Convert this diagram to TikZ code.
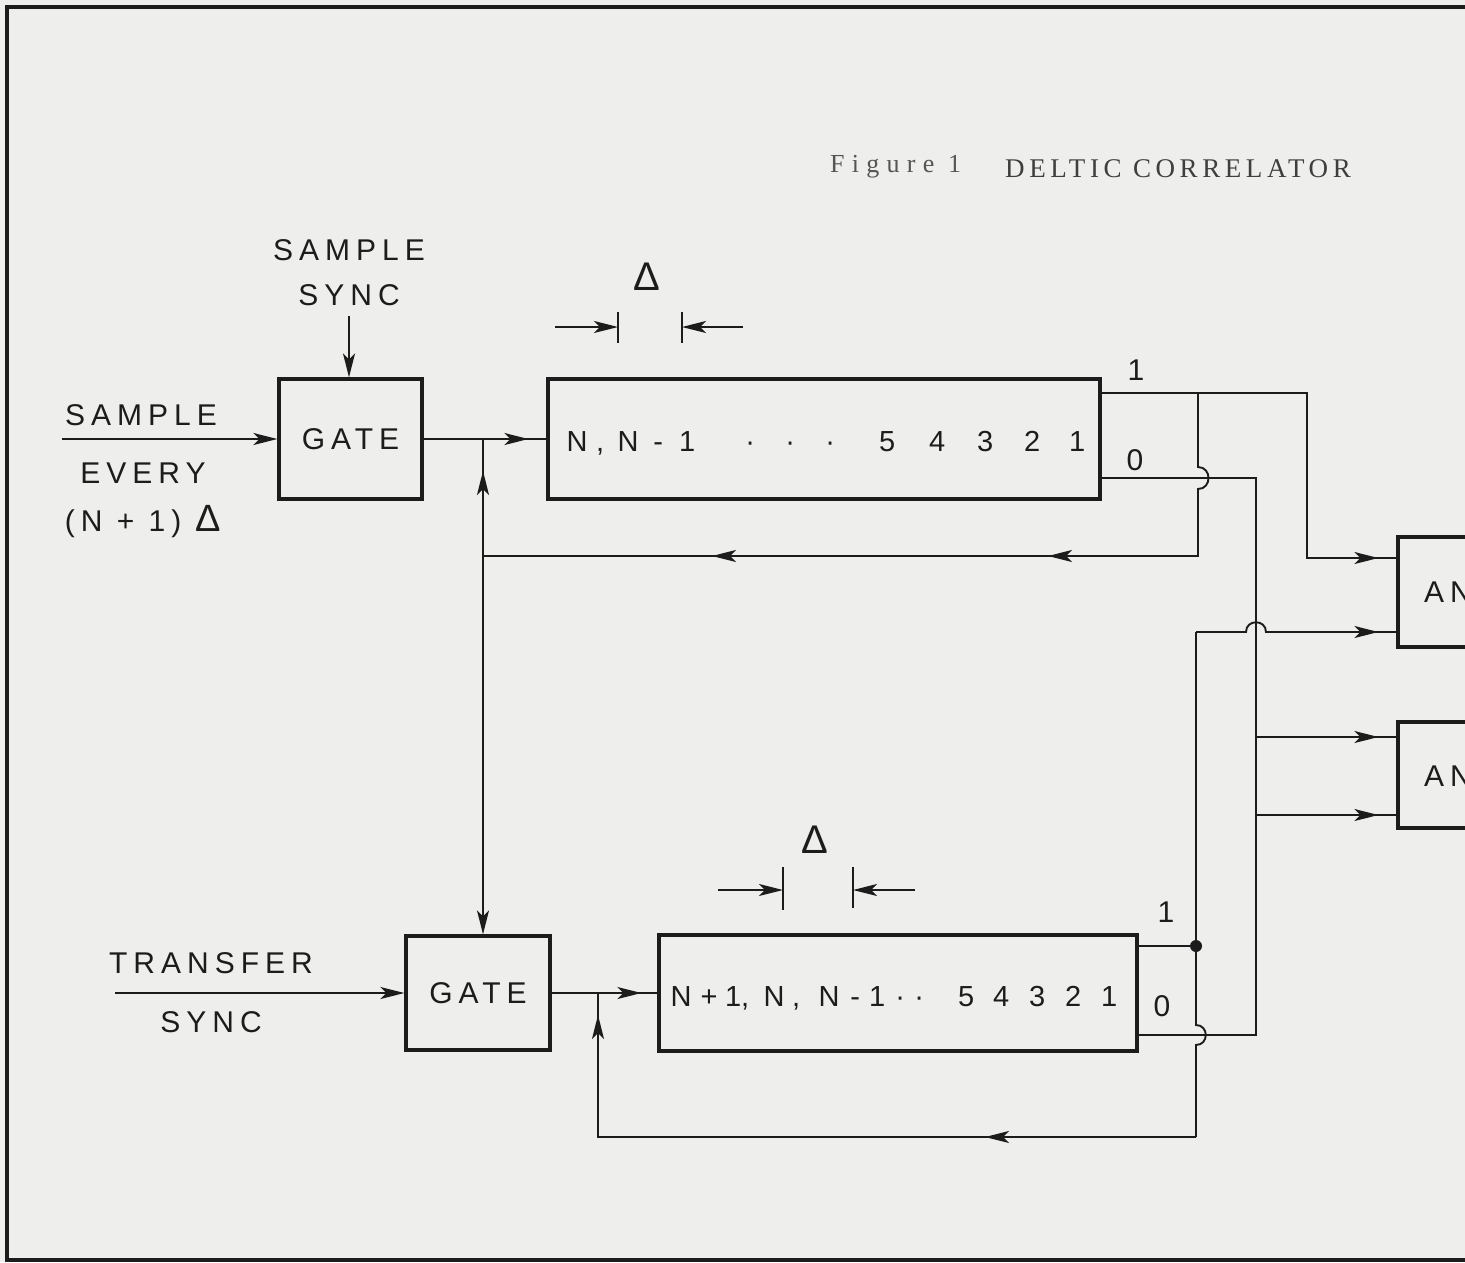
\documentclass[tikz,border=0pt]{standalone}
\usepackage{fontspec}
\newfontfamily\labfont[LetterSpace=20]{Liberation Sans}
\newfontfamily\plainlab{Liberation Sans}
\newfontfamily\titlefont[LetterSpace=17]{Liberation Serif}
\newfontfamily\figfont[LetterSpace=28]{Liberation Serif}
\usetikzlibrary{arrows.meta,decorations.markings}
\definecolor{ink}{RGB}{28,28,28}
\definecolor{paper}{RGB}{238,238,236}
\newcommand\cc[1]{\makebox[0pt]{#1}}
\begin{document}
\begin{tikzpicture}[x=1pt,y=-1pt,
  >={Stealth[length=24pt,width=12pt,inset=6pt]},
  wire/.style={draw=ink,line width=1.9pt},
  blk/.style={draw=ink,line width=3.2pt,rectangle,inner sep=0pt},
  lab/.style={font=\labfont\fontsize{30}{45}\selectfont,text=ink,inner sep=0pt},
  reglab/.style={font=\plainlab\fontsize{29}{36}\selectfont,text=ink,inner sep=0pt},
  dlt/.style={font=\plainlab\fontsize{40}{40}\selectfont,text=ink,inner sep=0pt},
  ttl/.style={font=\titlefont\fontsize{27}{30}\selectfont,text=ink!85,inner sep=0pt},
  figl/.style={font=\figfont\fontsize{26}{30}\selectfont,text=ink!75,inner sep=0pt},
  arrat/.style={postaction={decorate,decoration={markings,mark=at position #1 with {\arrow{>}}}}},
]
\fill[paper] (0,0) rectangle (1465,1262);
\useasboundingbox (0,0) rectangle (1465,1262);
\draw[ink,line width=4pt] (1465,7) -- (7,7) -- (7,1260) -- (1465,1260);

% title
\node[figl,anchor=base west] (fig) at (830,172) {Figure 1};
\node[ttl,anchor=base west] (ttl) at (1005,177) {DELTIC CORRELATOR};

% blocks
\node[blk,lab,minimum width=143pt,minimum height=120pt] (gate1) at (350.5,439) {GATE};
\node[blk,minimum width=552pt,minimum height=120pt] (reg1) at (824,439) {};
\node[blk,lab,minimum width=144pt,minimum height=114pt] (gate2) at (478,993) {GATE};
\node[blk,minimum width=478pt,minimum height=116pt] (reg2) at (898,993) {};
\node[blk,minimum width=140pt,minimum height=110pt] (and1) at (1468,592) {};
\node[blk,minimum width=140pt,minimum height=106pt] (and2) at (1468,775) {};
\node[lab,anchor=west] (andt1) at (1424,592) {AND};
\node[lab,anchor=west] (andt2) at (1424,776) {AND};

% register contents
\node[reglab,anchor=base west] (r1l) at (577,451) {\cc{N}\hspace{23pt}\cc{,}\hspace{28pt}\cc{N}\hspace{30pt}\cc{-}\hspace{29pt}\cc{1}};
\node[reglab,anchor=base west] (r1d) at (750,451) {\cc{·}\hspace{40pt}\cc{·}\hspace{40pt}\cc{·}};
\node[reglab,anchor=base west] (r1r) at (887,451) {\cc{5}\hspace{50pt}\cc{4}\hspace{48pt}\cc{3}\hspace{47pt}\cc{2}\hspace{45pt}\cc{1}};
\node[reglab,anchor=base west] (r2l) at (681,1006) {\cc{N}\hspace{28pt}\cc{+}\hspace{24pt}\cc{1}\hspace{12pt}\cc{,}\hspace{29pt}\cc{N}\hspace{22pt}\cc{,}\hspace{33pt}\cc{N}\hspace{26pt}\cc{-}\hspace{22pt}\cc{1}\hspace{23pt}\cc{·}\hspace{19pt}\cc{·}};
\node[reglab,anchor=base west] (r2r) at (966,1006) {\cc{5}\hspace{35pt}\cc{4}\hspace{36pt}\cc{3}\hspace{36pt}\cc{2}\hspace{36pt}\cc{1}};

% labels
\node[lab,align=center] (ssync) at (349,273) {SAMPLE\\SYNC};
\node[lab] (s1) at (141,415) {SAMPLE};
\node[lab] (s2) at (143,473) {EVERY};
\node[lab] (s3) at (143,522) {(N + 1) {\plainlab\fontsize{38}{38}\selectfont Δ}};
\node[lab] (t1) at (211,963) {TRANSFER};
\node[lab] (t2) at (211,1022) {SYNC};
\node[lab] (p1a) at (1136,370) {1};
\node[lab] (p1b) at (1135,460) {0};
\node[lab] (p2a) at (1166,912) {1};
\node[lab] (p2b) at (1162,1006) {0};

% delta markers
\node[dlt] (dl1) at (647,277) {Δ};
\node[dlt] (dl2) at (815,840) {Δ};
\coordinate (tk1a) at (618,312); \coordinate (tk1b) at (618,343);
\coordinate (tk2a) at (682,312); \coordinate (tk2b) at (682,343);
\coordinate (da1) at (555,327); \coordinate (da2) at (743,327);
\draw[wire] (tk1a) -- (tk1b);
\draw[wire] (tk2a) -- (tk2b);
\draw[wire,->] (da1) -- (tk1a |- da1);
\draw[wire,->] (da2) -- (tk2a |- da2);
\coordinate (tk3a) at (783,867); \coordinate (tk3b) at (783,910);
\coordinate (tk4a) at (853,867); \coordinate (tk4b) at (853,908);
\coordinate (db1) at (718,890); \coordinate (db2) at (915,890);
\draw[wire] (tk3a) -- (tk3b);
\draw[wire] (tk4a) -- (tk4b);
\draw[wire,->] (db1) -- (tk3a |- db1);
\draw[wire,->] (db2) -- (tk4a |- db2);

% inputs
\coordinate (sin) at (62,439);
\coordinate (tin) at (115,993);
\draw[wire,->] (sin) -- (gate1.west);
\draw[wire,->] (tin) -- (gate2.west);
\draw[wire,->] ([yshift=-10pt]ssync.south) -- (ssync.south |- gate1.north);
\draw[wire,arrat=-18pt] (gate1.east) -- (reg1.west);
\draw[wire,arrat=-16pt] (gate2.east) -- (reg2.west);

% feedback of upper register
\coordinate (j1) at (483,439);
\coordinate (j2) at (483,556);
\coordinate (j3) at (1198,556);
\draw[wire,arrat=-32pt] (j2) -- (j1);
\draw[wire,->] (j2) -- (j2 |- gate2.north);

\coordinate (r1a) at (1100,393);
\coordinate (r1b) at (1100,478);
\coordinate (k1) at (1307,393);
\coordinate (k2) at (1307,558);
\coordinate (b1) at (1198,393);
\draw[wire,arrat=-18pt] (r1a) -- (k1) -- (k2) -- (k2 -| and1.west);
\draw[wire,arrat=-565pt,arrat=-229pt] (b1) -- (1198,467) .. controls (1212,467) and (1212,489) .. (1198,489) -- (j3) -- (j2);

% zero outputs
\coordinate (m0) at (1256,478);
\coordinate (m1) at (1256,1035);
\coordinate (r2b) at (1137,1035);
\draw[wire] (r1b) -- (m0) -- (m1) -- (r2b);
\coordinate (q1) at (1256,737);
\coordinate (q2) at (1256,815);
\draw[wire,arrat=-18pt] (q1) -- (q1 -| and2.west);
\draw[wire,arrat=-18pt] (q2) -- (q2 -| and2.west);

% lower register one output and feedback
\coordinate (r2a) at (1137,946);
\coordinate (d1) at (1196,946);
\coordinate (v1) at (1196,632);
\coordinate (v2) at (1196,1137);
\coordinate (lp) at (598,1137);
\coordinate (lq) at (598,993);
\draw[wire] (r2a) -- (d1);
\fill[ink] (d1) circle (6pt);
\draw[wire] (v1) -- (1196,1025) .. controls (1209,1025) and (1209,1045) .. (1196,1045) -- (v2);
\draw[wire,arrat=-18pt] (v1) -- (1246,632) .. controls (1246,619) and (1266,619) .. (1266,632) -- (v1 -| and1.west);
\draw[wire,arrat=211pt,arrat=-22pt] (v2) -- (lp) -- (lq);
\end{tikzpicture}
\end{document}
